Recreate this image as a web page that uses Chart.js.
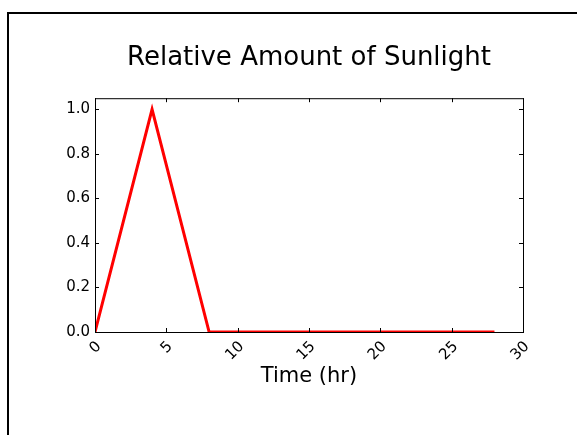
<!DOCTYPE html>
<html>
<head>
<meta charset="utf-8">
<script src="https://cdn.jsdelivr.net/npm/chart.js@4"></script>
<style>
  html, body { margin: 0; padding: 0; background: #fff; overflow: hidden; }
  #wrap { position: relative; width: 577px; height: 435px; }
  #frame { position: absolute; left: 7px; top: 12px; width: 620px; height: 480px;
           border-left: 2px solid #000; border-top: 2px solid #000; }
  canvas { position: absolute; left: 0; top: 0; }
</style>
</head>
<body>
<div id="wrap">
  <div id="frame"></div>
  <canvas id="myChart" width="577" height="435"></canvas>
</div>
<script>
// hours and relative sunlight
var hours = [0, 4, 8, 28];
var sunlight = [0, 1, 0, 0];
var xTicks = [0, 5, 10, 15, 20, 25, 30];
var yTicks = [0.0, 0.2, 0.4, 0.6, 0.8, 1.0];

var font = "'DejaVu Sans', sans-serif";

// matplotlib style: box round the axes, ticks pointing inward on all sides
var boxTicks = {
  id: 'boxTicks',
  afterDraw: function(chart) {
    var c = chart.ctx, a = chart.chartArea;
    var xs = chart.scales.x, ys = chart.scales.y;
    c.save();
    c.strokeStyle = '#000';
    c.lineWidth = 1;
    c.strokeRect(a.left + 0.5, a.top + 0.5, a.right - a.left, a.bottom - a.top);
    c.beginPath();
    xTicks.forEach(function(v) {
      var px = Math.round(xs.getPixelForValue(v)) + 0.5;
      c.moveTo(px, a.bottom); c.lineTo(px, a.bottom - 4);
      c.moveTo(px, a.top); c.lineTo(px, a.top + 4);
    });
    yTicks.forEach(function(v) {
      var py = Math.round(ys.getPixelForValue(v)) + 0.5;
      c.moveTo(a.left, py); c.lineTo(a.left + 4, py);
      c.moveTo(a.right, py); c.lineTo(a.right - 4, py);
    });
    c.stroke();
    c.restore();
  }
};

var ctx = document.getElementById('myChart').getContext('2d');
var chart = new Chart(ctx, {
  type: 'line',
  data: {
    datasets: [{
      data: hours.map(function(h, i) { return {x: h, y: sunlight[i]}; }),
      borderColor: '#ff0000',
      borderWidth: 3,
      pointRadius: 0,
      tension: 0,
      fill: false
    }]
  },
  options: {
    responsive: false,
    animation: false,
    layout: { padding: { left: 41, right: 0, top: 0, bottom: 46 } },
    plugins: {
      legend: { display: false },
      tooltip: { enabled: false },
      title: {
        display: true,
        text: 'Relative Amount of Sunlight',
        color: '#000',
        font: { family: font, size: 26, weight: 'normal' },
        padding: { top: 43, bottom: 24 }
      }
    },
    scales: {
      x: {
        type: 'linear',
        min: 0, max: 30,
        afterBuildTicks: function(s) { s.ticks = xTicks.map(function(v) { return {value: v}; }); },
        afterFit: function(s) { s.height = 57; },
        ticks: {
          includeBounds: false,
          minRotation: 45, maxRotation: 45,
          labelOffset: 4,
          padding: 6,
          color: '#000',
          font: { family: font, size: 15 }
        },
        grid: { drawOnChartArea: false, drawTicks: false },
        border: { display: true, color: '#000' },
        title: {
          display: true,
          text: 'Time (hr)',
          color: '#000',
          font: { family: font, size: 21 },
          padding: { top: 0, bottom: 0 }
        }
      },
      y: {
        type: 'linear',
        min: 0, max: 1.05,
        afterBuildTicks: function(s) { s.ticks = yTicks.map(function(v) { return {value: v}; }); },
        afterFit: function(s) { s.width = 54; },
        ticks: {
          includeBounds: false,
          padding: 5,
          color: '#000',
          font: { family: font, size: 15 },
          callback: function(v) { return v.toFixed(1); }
        },
        grid: { drawOnChartArea: false, drawTicks: false },
        border: { display: true, color: '#000' }
      },
      // empty right-hand strip so the title centres over the plot
      pad: {
        type: 'linear',
        position: 'right',
        afterFit: function(s) { s.width = 54; },
        ticks: { display: false },
        grid: { display: false, drawTicks: false },
        border: { display: false }
      }
    }
  },
  plugins: [boxTicks]
});
</script>
</body>
</html>
